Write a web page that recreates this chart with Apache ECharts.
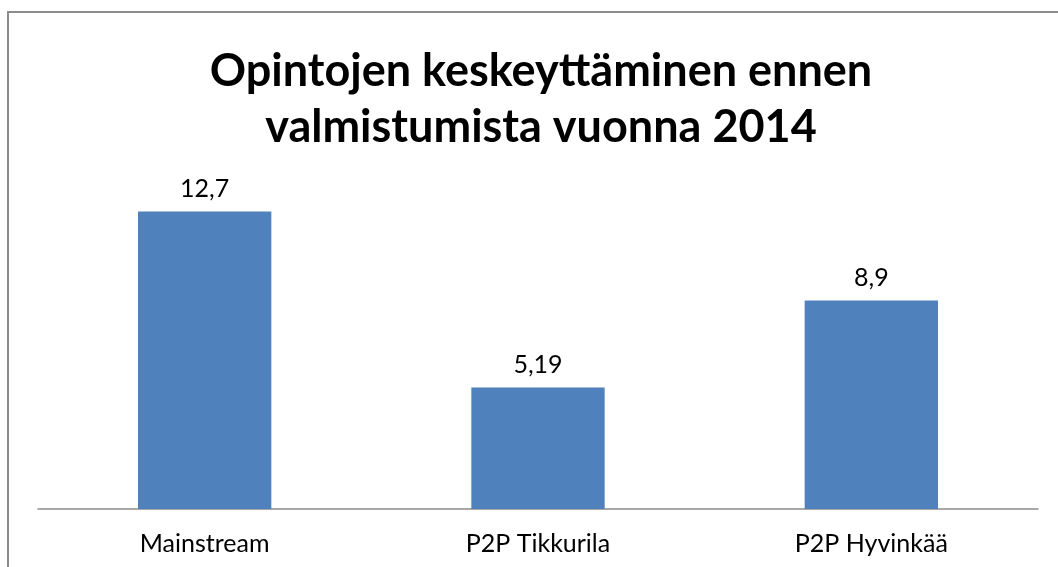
<!DOCTYPE html>
<html>
<head>
<meta charset="utf-8">
<script src="https://cdn.jsdelivr.net/npm/echarts@6/dist/echarts.min.js"></script>
<style>
  html, body { margin: 0; padding: 0; background: #fff; }
  #chart { width: 1058px; height: 567px; }
</style>
</head>
<body>
<div id="chart"></div>
<script>
// data
const categories = ['Mainstream', 'P2P Tikkurila', 'P2P Hyvinkää']
const values = [12.7, 5.19, 8.9]

const chart = echarts.init(document.getElementById('chart'))

const option = {
  backgroundColor: '#fff',
  title: {
    text: 'Opintojen keskeyttäminen ennen\nvalmistumista vuonna 2014',
    left: 536,
    textAlign: 'center',
    top: 38,
    textStyle: {
      fontFamily: 'Lato',
      fontWeight: 'bold',
      fontSize: 45,
      lineHeight: 56,
      color: '#000'
    }
  },
  graphic: [{
    type: 'rect',
    shape: { x: 8, y: 12, width: 1200, height: 700 },
    style: { fill: 'none', stroke: '#8c8c8c', lineWidth: 2 },
    silent: true
  }],
  grid: {
    left: 38,
    right: 20,
    top: 181,
    bottom: 58
  },
  xAxis: {
    type: 'category',
    data: categories,
    axisLine: { lineStyle: { color: '#8c8c8c', width: 1.5 } },
    axisTick: { show: false },
    axisLabel: {
      color: '#000',
      fontFamily: 'Lato',
      fontSize: 25,
      margin: 22
    }
  },
  yAxis: {
    type: 'value',
    min: 0,
    max: 14,
    show: false,
    splitLine: { show: false }
  },
  series: [{
    type: 'bar',
    data: values,
    barWidth: '40%',
    itemStyle: { color: '#4f81bd' },
    label: {
      show: true,
      position: 'top',
      distance: 10,
      color: '#000',
      fontFamily: 'Lato',
      fontSize: 25,
      formatter: (p) => String(p.value).replace('.', ',')
    }
  }]
}

chart.setOption(option)
</script>
</body>
</html>
